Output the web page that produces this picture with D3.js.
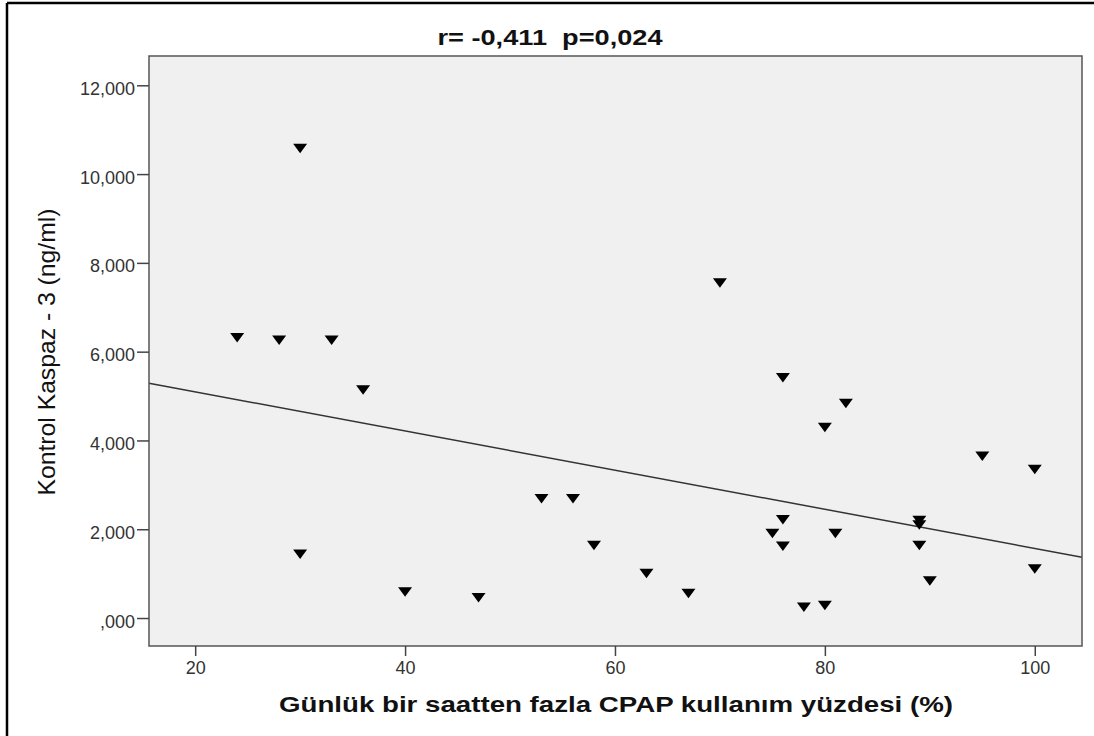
<!DOCTYPE html>
<html>
    <head>
        <meta charset="utf-8">
        <title></title>
        <script src="https://d3js.org/d3.v7.min.js"></script>
    </head>

    <body style="margin:0;background:#fff">
        <svg id="my_dataviz" width="1094" height="736"></svg>
    </body>

    <script>

        // data
        var usage = [24, 28, 30, 30, 33, 36, 40, 47, 53, 56, 58, 63, 67, 70, 75,
                     76, 76, 76, 78, 80, 80, 81, 82, 89, 89, 89, 90, 95, 100, 100]
        var caspase = [6.32, 6.26, 10.58, 1.44, 6.26, 5.14, 0.59, 0.46, 2.69, 2.69, 1.64, 1.01, 0.56, 7.55, 1.91,
                       5.42, 2.22, 1.62, 0.25, 4.30, 0.29, 1.91, 4.84, 2.20, 2.10, 1.64, 0.84, 3.65, 3.35, 1.11]
        var xTicks = [20, 40, 60, 80, 100]
        var yTicks = [0, 2, 4, 6, 8, 10, 12]
        // fit line as drawn: intercept and slope
        var fitIntercept = 5.978
        var fitSlope = -0.0441

        var titleText = "r= -0,411  p=0,024"
        var xLabel = "Günlük bir saatten fazla CPAP kullanım yüzdesi (%)"
        var yLabel = "Kontrol Kaspaz - 3 (ng/ml)"

        var svg = d3.select("svg")
        var font = "'Liberation Sans', Arial, sans-serif"

        // plot box (window.top is reserved, so different names)
        var pLeft = 149, pRight = 1082, pTop = 56, pBottom = 646

        var x = d3.scaleLinear().domain([15.6, 104.5]).range([pLeft, pRight])
        var y = d3.scaleLinear().domain([-0.63, 12.66]).range([pBottom, pTop])

        // outer frame (top and left edges only are visible)
        svg.append("line").attr("x1", 7).attr("x2", 1094).attr("y1", 3).attr("y2", 3)
            .style("stroke", "#000").style("stroke-width", 2.5)
        svg.append("line").attr("x1", 7).attr("x2", 7).attr("y1", 3).attr("y2", 736)
            .style("stroke", "#000").style("stroke-width", 2.5)

        // plot background
        svg.append("rect")
            .attr("x", pLeft).attr("y", pTop)
            .attr("width", pRight - pLeft).attr("height", pBottom - pTop)
            .style("fill", "#f0f0f0")

        // regression line
        var xd = x.domain()
        svg.append("line")
            .attr("x1", x(xd[0])).attr("y1", y(fitIntercept + fitSlope * xd[0]))
            .attr("x2", x(xd[1])).attr("y2", y(fitIntercept + fitSlope * xd[1]))
            .style("stroke", "#333").style("stroke-width", 1.5)

        // points: downward triangles
        var pts = usage.map(function(u, i){ return {x: u, y: caspase[i]} })
        svg.append("g")
            .selectAll("path")
            .data(pts)
            .enter().append("path")
            .attr("transform", function(d){ return "translate(" + x(d.x) + "," + y(d.y) + ")" })
            .attr("d", "M-7,-4.5L7,-4.5L0,5Z")
            .style("fill", "#000")

        // plot border
        svg.append("rect")
            .attr("x", pLeft).attr("y", pTop)
            .attr("width", pRight - pLeft).attr("height", pBottom - pTop)
            .style("fill", "none")
            .style("stroke", "#555").style("stroke-width", 1.5)

        // axes
        var fmt = function(v){ return v === 0 ? ",000" : d3.format(",.3f")(v).replace(".", ",") }

        var yAxis = svg.append("g")
            .attr("transform", "translate(" + pLeft + ",0)")
            .call(d3.axisLeft(y).tickValues(yTicks).tickFormat(fmt).tickSize(12).tickPadding(2))
        var xAxis = svg.append("g")
            .attr("transform", "translate(0," + pBottom + ")")
            .call(d3.axisBottom(x).tickValues(xTicks).tickSize(10).tickPadding(5))

        ;[xAxis, yAxis].forEach(function(g){
            g.select(".domain").remove()
            g.selectAll(".tick line").style("stroke", "#444").style("stroke-width", 1.5)
            g.selectAll(".tick text")
                .style("font-family", font).style("font-size", "18px").style("fill", "#333")
        })
        yAxis.selectAll(".tick text").attr("dy", "0.5em")

        // title and axis labels
        svg.append("text")
            .attr("x", 550).attr("y", 45)
            .attr("text-anchor", "middle")
            .attr("textLength", 225).attr("lengthAdjust", "spacingAndGlyphs")
            .style("white-space", "pre")
            .style("font-family", font).style("font-size", "22px").style("font-weight", "bold")
            .style("fill", "#111")
            .text(titleText)

        svg.append("text")
            .attr("x", 616).attr("y", 712)
            .attr("text-anchor", "middle")
            .attr("textLength", 674).attr("lengthAdjust", "spacingAndGlyphs")
            .style("font-family", font).style("font-size", "22px").style("font-weight", "bold")
            .style("fill", "#111")
            .text(xLabel)

        svg.append("text")
            .attr("transform", "translate(55,352) rotate(-90)")
            .attr("text-anchor", "middle")
            .attr("textLength", 287).attr("lengthAdjust", "spacingAndGlyphs")
            .style("font-family", font).style("font-size", "24px")
            .style("fill", "#111")
            .text(yLabel)

    </script>

    <style>

    </style>
</html>
